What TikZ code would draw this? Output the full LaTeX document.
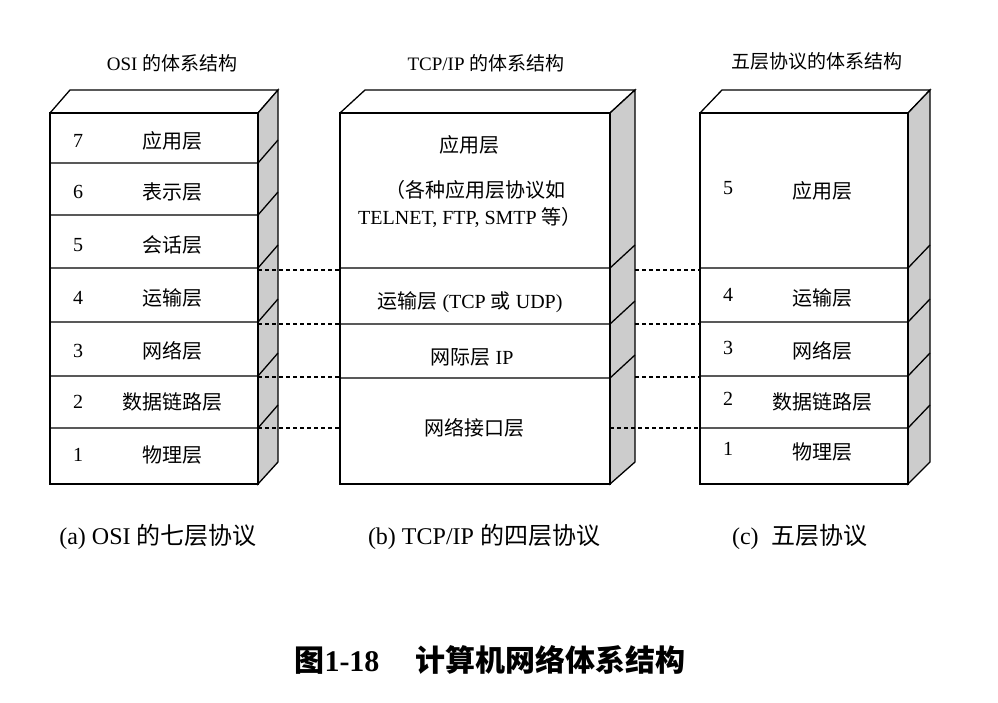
\documentclass[tikz,border=0pt]{standalone}
\usepackage{fontspec}
\setmainfont{Liberation Serif}
\newfontfamily\cjk{Noto Sans CJK SC}
\tikzset{
  front/.style={draw,line width=1.3pt,fill=white},
  side/.style={draw,line width=1.3pt,fill=gray!40},
  lbl/.style={font=\fontsize{20}{22}\selectfont,inner sep=0pt},
  num/.style={font=\fontsize{20}{22}\selectfont,inner sep=0pt},
  ttl/.style={font=\fontsize{19}{21}\selectfont,inner sep=0pt},
  captext/.style={font=\fontsize{24}{26}\selectfont,inner sep=0pt},
  conn/.style={dash pattern=on 4pt off 3pt,line width=1.2pt}
}
\newcommand{\mystack}[4]{% x0, x1, depth, dividers
  \fill[white] (#1,113) -- (#1+#3,90) -- (#2+#3,90) -- (#2,113) -- cycle;
  \draw[line width=1.3pt] (#1,113) -- (#1+#3,90) -- (#2+#3,90) -- (#2,113);
  \draw[side] (#2,113) -- (#2+#3,90) -- (#2+#3,462) -- (#2,484) -- cycle;
  \draw[front] (#1,113) rectangle (#2,484);
  \foreach \yy in {#4} {
    \draw[line width=1.3pt] (#1,\yy) -- (#2,\yy) -- (#2+#3,\yy-23);
  }
}
\begin{document}
\begin{tikzpicture}[x=1pt,y=-1pt]
\fill[white] (0,0) rectangle (998,702);
\useasboundingbox (0,0) rectangle (998,702);
\mystack{50}{258}{20}{163,215,268,322,376,428}
\mystack{340}{610}{25}{268,324,378}
\mystack{700}{908}{22}{268,322,376,428}
% titles
\node[ttl] (ta) at (172,63) {OSI {\cjk 的体系结构}};
\node[ttl] (tb) at (486,63) {TCP/IP {\cjk 的体系结构}};
\node[ttl] (tc) at (817,61) {\cjk 五层协议的体系结构};
% stack a
\foreach \n/\t/\y in {7/应用层/141,6/表示层/192,5/会话层/245,4/运输层/298,3/网络层/351,2/数据链路层/402,1/物理层/455}{
  \node[num] (an\n) at (78,\y) {\n};
  \node[lbl] (al\n) at (172,\y) {\cjk \t};
}
% stack b
\node[lbl] (b1) at (469,145) {\cjk 应用层};
\node[lbl] (b2) at (475,190) {\cjk （各种应用层协议如};
\node[lbl] (b3) at (470,217) {TELNET, FTP, SMTP {\cjk 等）}};
\node[lbl] (b4) at (470,302) {{\cjk 运输层} (TCP {\cjk 或} UDP)};
\node[lbl] (b5) at (472,357) {{\cjk 网际层} IP};
\node[lbl] (b6) at (474,428) {\cjk 网络接口层};
% stack c
\foreach \n/\t/\y in {5/应用层/191,4/运输层/298,3/网络层/351,2/数据链路层/402,1/物理层/452}{
  \node[num] (cn\n) at (728,\y-3) {\n};
  \node[lbl] (cl\n) at (822,\y) {\cjk \t};
}
% dashed connectors
\coordinate (a4) at (258,270); \coordinate (b4l) at (340,270);
\coordinate (b4r) at (635,270); \coordinate (c4) at (700,270);
\coordinate (a3) at (258,324); \coordinate (b3l) at (340,324);
\coordinate (b3r) at (635,324); \coordinate (c3) at (700,324);
\coordinate (a2) at (258,377); \coordinate (b2l) at (340,377);
\coordinate (b2r) at (635,377); \coordinate (c2) at (700,377);
\coordinate (a1) at (258,428); \coordinate (b1l) at (340,428);
\coordinate (b1r) at (610,428); \coordinate (c1) at (700,428);
\foreach \p/\q in {a4/b4l,b4r/c4,a3/b3l,b3r/c3,a2/b2l,b2r/c2,a1/b1l,b1r/c1}
  \draw[conn] (\p) -- (\q);
% captions
\node[captext] (ca) at (158,537) {(a) OSI {\cjk 的七层协议}};
\node[captext] (cb) at (484,537) {(b) TCP/IP {\cjk 的四层协议}};
\node[captext] (cc) at (800,537) {(c)\hspace{0.3em} {\cjk 五层协议}};
\node[font=\fontsize{30}{32}\selectfont\bfseries,inner sep=0pt] (fig) at (490,660) {{\cjk\bfseries 图}1-18\hspace{1.2em}{\cjk\bfseries 计算机网络体系结构}};
\end{tikzpicture}
\end{document}
